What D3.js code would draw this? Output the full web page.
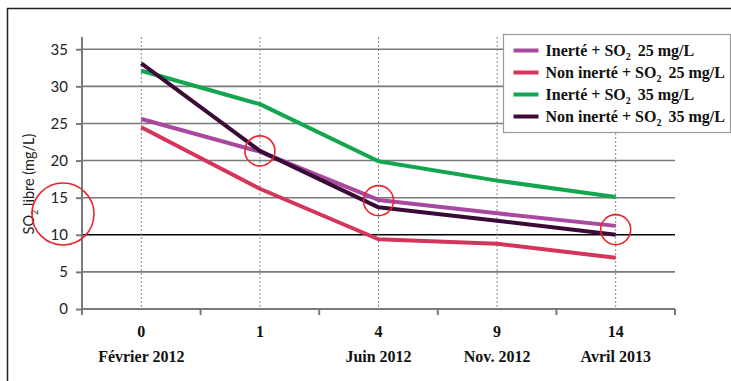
<!DOCTYPE html>
<html>
<head>
<meta charset="utf-8">
<script src="https://cdn.jsdelivr.net/npm/d3@7/dist/d3.min.js"></script>
<style>
  html, body { margin: 0; padding: 0; background: #fff; }
  svg { display: block; }
</style>
</head>
<body>
<svg id="chart" width="731" height="381"></svg>
<script>
// Months since bottling, with the sampling date shown under some of them
const categories = ["0", "1", "4", "9", "14"];
const dateLabels = ["Février 2012", "", "Juin 2012", "Nov. 2012", "Avril 2013"];
const yTicks = [0, 5, 10, 15, 20, 25, 30, 35];

// Free SO2 (mg/L) per series
const inerte25 = [25.6, 21.2, 14.7, 12.9, 11.2];
const nonInerte25 = [24.5, 16.2, 9.4, 8.8, 6.9];
const inerte35 = [32.1, 27.6, 19.9, 17.3, 15.1];
const nonInerte35 = [33.1, 21.3, 13.7, 11.9, 10.0];

// Highlighted points (category index, value) and the threshold marker on the axis
const highlights = [[1, 21.3], [2, 14.6], [4, 10.7]];
const axisHighlight = 12.8;

const series = [
  { pre: "Inerté + SO", post: "25 mg/L", values: inerte25, color: "#a8489f" },
  { pre: "Non inerté + SO", post: "25 mg/L", values: nonInerte25, color: "#d5345b" },
  { pre: "Inerté + SO", post: "35 mg/L", values: inerte35, color: "#12a64f" },
  { pre: "Non inerté + SO", post: "35 mg/L", values: nonInerte35, color: "#3b0b38" }
];

const svg = d3.select("#chart");
const plotLeft = 82, plotRight = 675, plotTop = 37, plotBottom = 309;

const x = d3.scaleBand().domain(categories).range([plotLeft, plotRight]);
const y = d3.scaleLinear().domain([0, 36.65]).range([plotBottom, plotTop]);
const xc = c => x(c) + x.bandwidth() / 2;

// Outer frame
svg.append("path").attr("d", "M7.5,381 V8.5 H731")
  .attr("fill", "none").attr("stroke", "#222").attr("stroke-width", 1.5);

// Horizontal gridlines
svg.append("g").selectAll("line").data(yTicks.filter(t => t > 0)).join("line")
  .attr("x1", plotLeft).attr("x2", plotRight)
  .attr("y1", d => y(d)).attr("y2", d => y(d))
  .attr("stroke", d => d === 10 ? "#000" : "#7a7a7a")
  .attr("stroke-width", 1.6);

// Vertical dotted guides at each sample
svg.append("g").selectAll("line").data(categories).join("line")
  .attr("x1", d => xc(d)).attr("x2", d => xc(d))
  .attr("y1", plotTop).attr("y2", plotBottom)
  .attr("stroke", "#888").attr("stroke-width", 1).attr("stroke-dasharray", "2,2");

// Y axis
const yAxis = svg.append("g").attr("transform", `translate(${plotLeft},0)`)
  .call(d3.axisLeft(y).tickValues(yTicks).tickSize(6).tickPadding(8));
yAxis.select(".domain").remove();
yAxis.append("line").attr("x1", 0).attr("x2", 0).attr("y1", plotTop).attr("y2", plotBottom + 6)
  .attr("stroke", "#7a7a7a").attr("stroke-width", 2);
yAxis.selectAll(".tick line").attr("stroke", "#7a7a7a").attr("stroke-width", 2);
yAxis.selectAll(".tick text").attr("font-family", "Lato, sans-serif")
  .attr("font-size", 15).attr("fill", "#222");

// X axis: ticks at the band boundaries
const bounds = categories.map(c => x(c)).concat([plotRight]);
svg.append("line").attr("x1", plotLeft).attr("x2", plotRight).attr("y1", plotBottom).attr("y2", plotBottom)
  .attr("stroke", "#7a7a7a").attr("stroke-width", 2);
svg.append("g").selectAll("line").data(bounds).join("line")
  .attr("x1", d => d).attr("x2", d => d).attr("y1", plotBottom).attr("y2", plotBottom + 6)
  .attr("stroke", "#7a7a7a").attr("stroke-width", 2);

svg.append("g").selectAll("text").data(categories).join("text")
  .attr("x", d => xc(d)).attr("y", 337).attr("text-anchor", "middle")
  .attr("font-family", "'Liberation Serif', serif").attr("font-weight", "bold")
  .attr("font-size", 16).attr("fill", "#111").text(d => d);

svg.append("g").selectAll("text").data(categories).join("text")
  .attr("x", d => xc(d)).attr("y", 362).attr("text-anchor", "middle")
  .attr("font-family", "'Liberation Serif', serif").attr("font-weight", "bold")
  .attr("font-size", 16).attr("fill", "#111").text((d, i) => dateLabels[i]);

// Y axis title
const yt = svg.append("text").attr("transform", "translate(34,184) rotate(-90)")
  .attr("text-anchor", "middle").attr("font-family", "Lato, sans-serif")
  .attr("font-size", 14.5).attr("fill", "#222");
yt.append("tspan").text("SO");
yt.append("tspan").attr("font-size", 9).attr("dy", 4).text("2");
yt.append("tspan").attr("dy", -4).text(" libre (mg/L)");

// Series lines
const line = d3.line().x((d, i) => xc(categories[i])).y(d => y(d));
svg.append("g").selectAll("path").data(series).join("path")
  .attr("d", s => line(s.values))
  .attr("fill", "none").attr("stroke", s => s.color)
  .attr("stroke-width", 4).attr("stroke-linejoin", "round");

// Highlight circles
svg.append("g").selectAll("circle").data(highlights).join("circle")
  .attr("cx", d => xc(categories[d[0]])).attr("cy", d => y(d[1])).attr("r", 15)
  .attr("fill", "none").attr("stroke", "#e8262d").attr("stroke-width", 1.6);
svg.append("circle").attr("cx", 63).attr("cy", y(axisHighlight)).attr("r", 31)
  .attr("fill", "none").attr("stroke", "#e8262d").attr("stroke-width", 1.6);

// Legend
const lg = svg.append("g").attr("transform", "translate(503.5,34.5)");
lg.append("rect").attr("width", 227).attr("height", 98)
  .attr("fill", "#fff").attr("stroke", "#999").attr("stroke-width", 1.2);
const rows = lg.selectAll("g").data(series).join("g")
  .attr("transform", (d, i) => `translate(0,${16 + i * 22})`);
rows.append("line").attr("x1", 10).attr("x2", 35)
  .attr("stroke", d => d.color).attr("stroke-width", 4);
const lt = rows.append("text").attr("x", 42).attr("y", 5.5)
  .attr("font-family", "'Liberation Serif', serif").attr("font-weight", "bold")
  .attr("font-size", 16).attr("fill", "#111");
lt.append("tspan").text(d => d.pre);
lt.append("tspan").attr("font-size", 10).attr("dy", 4).text("2");
lt.append("tspan").attr("dy", -4).attr("dx", 3).text(d => " " + d.post);
</script>
</body>
</html>
